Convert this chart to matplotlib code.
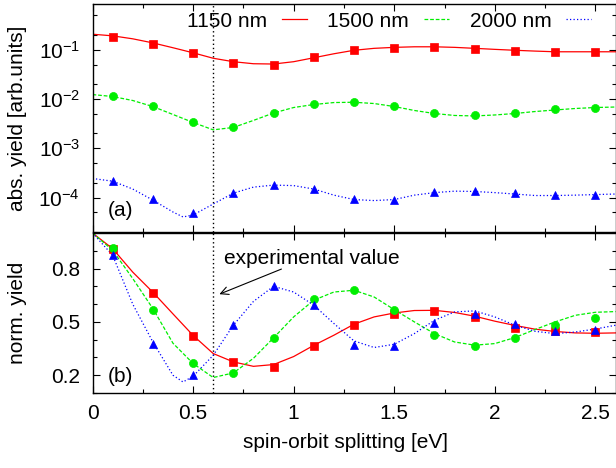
import matplotlib
matplotlib.use("Agg")
import matplotlib.pyplot as plt
from matplotlib.ticker import FixedLocator, FuncFormatter, NullFormatter, MultipleLocator
import numpy as np

plt.rcParams['font.family'] = ['Liberation Sans', 'DejaVu Sans']
plt.rcParams['font.size'] = 15
plt.rcParams['mathtext.fontset'] = 'custom'
plt.rcParams['mathtext.rm'] = 'Liberation Sans'
plt.rcParams['mathtext.it'] = 'Liberation Sans'

# ---------------- data ----------------
labels = ['1150 nm', '1500 nm', '2000 nm']
colors = ['#ff0000', '#00ee00', '#0000ff']

# sampled points (markers)
x_pts = [0.1, 0.3, 0.5, 0.7, 0.9, 1.1, 1.3, 1.5, 1.7, 1.9, 2.1, 2.3, 2.5]

abs_red_pts = [0.186, 0.134, 0.088, 0.055, 0.050, 0.073, 0.100, 0.111, 0.115, 0.105, 0.095, 0.092, 0.092]
abs_green_pts = [0.0114, 0.00716, 0.0034, 0.00274, 0.00516, 0.00785, 0.0086, 0.00716, 0.00526,
                 0.00464, 0.00509, 0.00614, 0.00652]
abs_blue_pts = [2.18e-4, 9.3e-5, 4.86e-5, 1.22e-4, 1.79e-4, 1.47e-4, 9.3e-5, 9.0e-5, 1.27e-4,
                1.35e-4, 1.23e-4, 1.14e-4, 1.14e-4]

norm_red_pts = [0.912, 0.663, 0.421, 0.273, 0.248, 0.365, 0.485, 0.547, 0.562, 0.526, 0.464, 0.447, 0.442]
norm_green_pts = [0.916, 0.569, 0.267, 0.215, 0.41, 0.626, 0.68, 0.569, 0.425, 0.367, 0.41, 0.485, 0.522]
norm_blue_pts = [0.875, 0.378, 0.2, 0.485, 0.702, 0.595, 0.37, 0.363, 0.496, 0.543, 0.487, 0.449, 0.457]

# continuous curves
x_curve = [0.0, 0.1, 0.2, 0.3, 0.4, 0.5, 0.6, 0.7, 0.8, 0.9, 1.0, 1.1, 1.2, 1.3,
           1.4, 1.5, 1.6, 1.7, 1.8, 1.9, 2.0, 2.1, 2.2, 2.3, 2.4, 2.5, 2.6]
x_curve_blue = [0.0, 0.1, 0.2, 0.3, 0.4, 0.45, 0.5, 0.6, 0.7, 0.8, 0.9, 1.0, 1.1, 1.2, 1.3,
                1.4, 1.5, 1.6, 1.7, 1.8, 1.9, 2.0, 2.1, 2.2, 2.3, 2.4, 2.5, 2.6]

abs_red_curve = [0.207, 0.192, 0.167, 0.138, 0.110, 0.0869, 0.0673, 0.0573, 0.0521, 0.0514,
                 0.0573, 0.0689, 0.0830, 0.0977, 0.107, 0.112, 0.115, 0.115, 0.112, 0.107,
                 0.102, 0.0977, 0.0941, 0.0911, 0.0911, 0.0911, 0.0911]
abs_green_curve = [0.01233, 0.01125, 0.00934, 0.00705, 0.00486, 0.00335, 0.00237, 0.00265,
                   0.00368, 0.00521, 0.00673, 0.00774, 0.00849, 0.00861, 0.00811, 0.00705,
                   0.00586, 0.00509, 0.00464, 0.00454, 0.00475, 0.00509, 0.00558, 0.00600,
                   0.00643, 0.00673, 0.00689]
abs_blue_curve = [2.44e-4, 2.15e-4, 1.49e-4, 8.89e-5, 5.09e-5, 4.04e-5, 4.43e-5, 7.39e-5,
                  1.23e-4, 1.63e-4, 1.79e-4, 1.75e-4, 1.49e-4, 1.12e-4, 9.12e-5, 8.69e-5,
                  9.12e-5, 1.12e-4, 1.26e-4, 1.35e-4, 1.33e-4, 1.26e-4, 1.18e-4, 1.10e-4,
                  1.10e-4, 1.12e-4, 1.15e-4, 1.18e-4]

norm_red_curve = [1.0, 0.912, 0.78, 0.667, 0.545, 0.424, 0.322, 0.275, 0.25, 0.26, 0.305,
                  0.368, 0.425, 0.487, 0.528, 0.55, 0.564, 0.565, 0.553, 0.532, 0.504, 0.48,
                  0.459, 0.446, 0.438, 0.436, 0.438]
norm_green_curve = [1.0, 0.903, 0.744, 0.575, 0.38, 0.266, 0.187, 0.213, 0.295, 0.41, 0.528,
                    0.622, 0.668, 0.678, 0.64, 0.569, 0.5, 0.434, 0.387, 0.369, 0.378, 0.412,
                    0.457, 0.5, 0.537, 0.554, 0.558]
norm_blue_curve = [1.0, 0.875, 0.60, 0.387, 0.20, 0.162, 0.194, 0.312, 0.481, 0.615, 0.700,
                   0.668, 0.594, 0.491, 0.393, 0.356, 0.374, 0.434, 0.509, 0.556, 0.562,
                   0.528, 0.481, 0.447, 0.434, 0.443, 0.46, 0.481]

exp_value = 0.6
x_ticks = [0, 0.5, 1, 1.5, 2, 2.5]
abs_ticks = [1e-4, 1e-3, 1e-2, 1e-1]
norm_ticks = [0.2, 0.5, 0.8]

# ---------------- figure ----------------
W, H = 616, 468
fig = plt.figure(figsize=(W / 100, H / 100), dpi=100)
ax1 = fig.add_axes([92.5 / W, 1 - 232 / H, 523 / W, 228 / H])
ax2 = fig.add_axes([92.5 / W, 1 - 393 / H, 523 / W, 160 / H])

styles = ['-', (0, (3, 1.5)), (0, (1, 1.8))]
markers = ['s', 'o', '^']
msizes = [5.8, 5.8, 5.2]

abs_curves = [(x_curve, abs_red_curve), (x_curve, abs_green_curve), (x_curve_blue, abs_blue_curve)]
abs_pts = [abs_red_pts, abs_green_pts, abs_blue_pts]
norm_curves = [(x_curve, norm_red_curve), (x_curve, norm_green_curve), (x_curve_blue, norm_blue_curve)]
norm_pts = [norm_red_pts, norm_green_pts, norm_blue_pts]

handles = []
for i in range(3):
    xc, yc = abs_curves[i]
    h, = ax1.plot(xc, yc, color=colors[i], ls=styles[i], lw=0.9, zorder=2, label=labels[i])
    handles.append(h)
    ax1.plot(x_pts, abs_pts[i], ls='none', marker=markers[i], ms=msizes[i], color=colors[i],
             mec=colors[i], mew=0.5, zorder=3)
    xc, yc = norm_curves[i]
    ax2.plot(xc, yc, color=colors[i], ls=styles[i], lw=0.9, zorder=2)
    ax2.plot(x_pts, norm_pts[i], ls='none', marker=markers[i], ms=msizes[i], color=colors[i],
             mec=colors[i], mew=0.5, zorder=3)

for ax in (ax1, ax2):
    ax.axvline(exp_value, color='black', ls=(0, (1, 2)), lw=1.0, zorder=1)
    ax.set_xlim(0, 2.6)
    ax.xaxis.set_major_locator(FixedLocator(x_ticks))
    ax.xaxis.set_minor_locator(MultipleLocator(0.25))
    ax.tick_params(which='both', direction='in', top=True, right=True)
    ax.tick_params(which='major', length=5, width=0.8)
    ax.tick_params(which='minor', length=2.8, width=0.8)
    ax.tick_params(axis='y', pad=9)
    ax.tick_params(axis='x', pad=8)
    for s in ax.spines.values():
        s.set_linewidth(1.0)

ax1.set_yscale('log')
ax1.set_ylim(2e-5, 0.85)
ax1.yaxis.set_major_locator(FixedLocator(abs_ticks))
ax1.yaxis.set_major_formatter(FuncFormatter(lambda v, p: r'$10^{%d}$' % int(round(np.log10(v)))))
ax1.yaxis.set_minor_locator(FixedLocator([2e-5, 5e-5, 2e-4, 5e-4, 2e-3, 5e-3, 2e-2, 5e-2, 2e-1, 5e-1]))
ax1.yaxis.set_minor_formatter(NullFormatter())
ax1.xaxis.set_major_formatter(NullFormatter())

ax2.set_ylim(0.1, 1.0)
ax2.yaxis.set_major_locator(FixedLocator(norm_ticks))
ax2.yaxis.set_minor_locator(FixedLocator([0.1, 0.3, 0.4, 0.6, 0.7, 0.9]))
ax2.yaxis.set_major_formatter(FuncFormatter(lambda v, p: '%g' % v))
ax2.xaxis.set_major_formatter(FuncFormatter(lambda v, p: '%g' % v))

ax1.set_ylabel('abs. yield [arb.units]')
ax2.set_ylabel('norm. yield')
ax1.yaxis.set_label_coords(-0.125, 0.5)
ax2.yaxis.set_label_coords(-0.125, 0.5)
ax2.set_xlabel('spin-orbit splitting [eV]')
ax2.xaxis.set_label_coords(0.483, -0.25)

ax1.text(0.03, 0.096, '(a)', transform=ax1.transAxes, ha='left', va='center')
ax2.text(0.03, 0.10, '(b)', transform=ax2.transAxes, ha='left', va='center')

ax2.text(0.656, 0.856, 'experimental value', ha='left', va='center')
ax2.annotate('', xy=(0.618, 0.65), xytext=(0.952, 0.803),
             arrowprops=dict(arrowstyle='->', color='black', lw=0.8, mutation_scale=14))

ax1.legend(handles=handles, loc='center right', bbox_to_anchor=(0.953, 0.925), ncol=3,
           markerfirst=False, frameon=False, handlelength=1.2, handletextpad=0.7,
           columnspacing=1.0, borderpad=0, borderaxespad=0)

fig.savefig('out.png', dpi=100)
